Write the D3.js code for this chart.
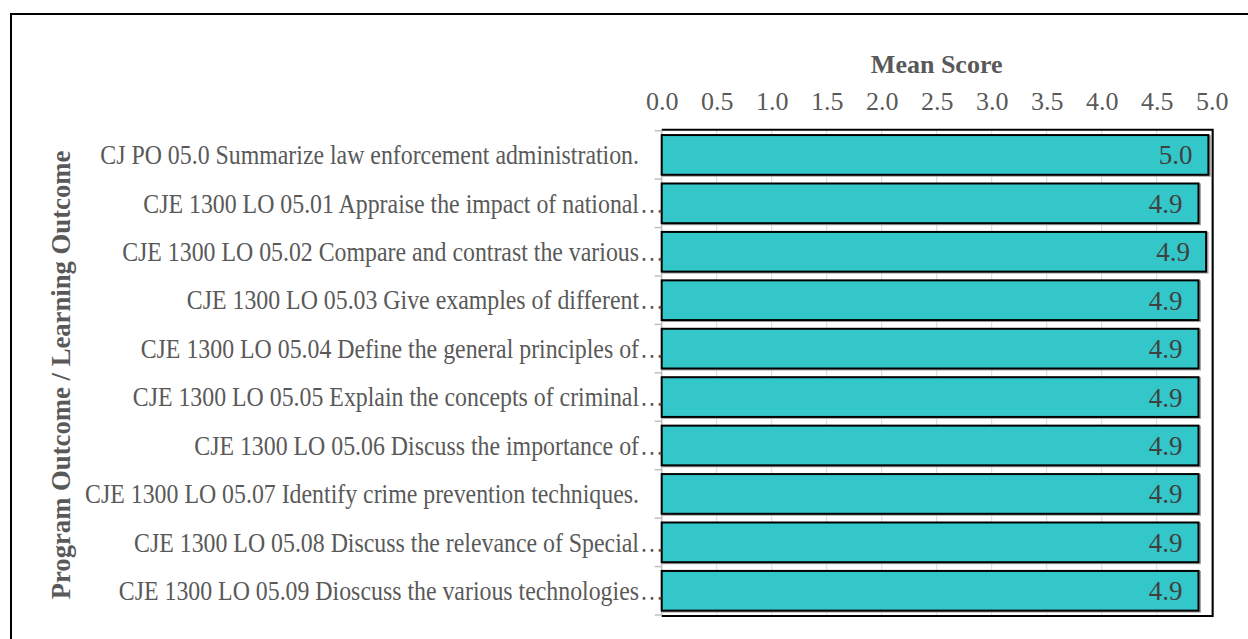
<!DOCTYPE html>
<html>
<head>
<meta charset="utf-8">
<script src="https://cdn.jsdelivr.net/npm/d3@7/dist/d3.min.js"></script>
<style>
  body { margin: 0; background: #fff; }
  svg text { font-family: "Liberation Serif", "Times New Roman", serif; }
</style>
</head>
<body>
<div id="chart"></div>
<script>
// chart data
var outcomes = [
  "CJ PO 05.0 Summarize law enforcement administration.",
  "CJE 1300 LO 05.01 Appraise the impact of national",
  "CJE 1300 LO 05.02 Compare and contrast the various",
  "CJE 1300 LO 05.03 Give examples of different",
  "CJE 1300 LO 05.04 Define the general principles of",
  "CJE 1300 LO 05.05 Explain the concepts of criminal",
  "CJE 1300 LO 05.06 Discuss the importance of",
  "CJE 1300 LO 05.07 Identify crime prevention techniques.",
  "CJE 1300 LO 05.08 Discuss the relevance of Special",
  "CJE 1300 LO 05.09 Dioscuss the various technologies"
];
var truncated = [false, true, true, true, true, true, true, false, true, true];
var meanScores = [4.97, 4.88, 4.949, 4.88, 4.88, 4.88, 4.88, 4.88, 4.88, 4.88];
var xTicks = [0, 0.5, 1, 1.5, 2, 2.5, 3, 3.5, 4, 4.5, 5];

var width = 1248, height = 639;
var plotLeft = 661.7, plotRight = 1211.7, plotTop = 130.7, plotBottom = 615;

var svg = d3.select("#chart").append("svg")
    .attr("width", width)
    .attr("height", height);

// outer border
svg.append("path")
    .attr("d", "M11,640 L11,14 L1250,14")
    .attr("fill", "none")
    .attr("stroke", "#000")
    .attr("stroke-width", 2);

var x = d3.scaleLinear().domain([0, 5]).range([plotLeft, plotRight]);
var y = d3.scaleBand().domain(d3.range(outcomes.length)).range([plotTop, plotBottom]).paddingInner(0.18).paddingOuter(0.09);

var textCol = "#595959";

// gridlines
svg.append("g").selectAll("line")
    .data(xTicks.slice(1))
    .enter().append("line")
    .attr("x1", function(d){ return x(d); })
    .attr("x2", function(d){ return x(d); })
    .attr("y1", plotTop)
    .attr("y2", plotBottom)
    .attr("stroke", "#d9d9d9")
    .attr("stroke-width", 1);

// top axis labels
var xAxis = d3.axisTop(x).tickValues(xTicks).tickFormat(d3.format(".1f")).tickSize(0).tickPadding(21);
var gx = svg.append("g").attr("transform", "translate(0," + plotTop + ")").call(xAxis);
gx.select(".domain").remove();
gx.selectAll("text")
    .attr("fill", textCol)
    .style("font-size", "26px")
    .style("font-family", "'Liberation Serif', serif");

svg.append("text")
    .attr("x", (plotLeft + plotRight) / 2)
    .attr("y", 73)
    .attr("text-anchor", "middle")
    .attr("fill", textCol)
    .style("font-size", "26px")
    .style("font-weight", "bold")
    .text("Mean Score");

// y axis title
svg.append("text")
    .attr("transform", "translate(70,375) rotate(-90)")
    .attr("text-anchor", "middle")
    .attr("fill", textCol)
    .style("font-size", "26.7px")
    .style("font-weight", "bold")
    .text("Program Outcome / Learning Outcome");

// plot frame
svg.append("path")
    .attr("d", "M" + plotLeft + "," + (plotTop - 1) + " L" + (plotRight + 1) + "," + (plotTop - 1) + " L" + (plotRight + 1) + "," + (plotBottom + 1) + " L" + plotLeft + "," + (plotBottom + 1))
    .attr("fill", "none")
    .attr("stroke", "#000")
    .attr("stroke-width", 2);

// left axis line + boundary ticks
var n = outcomes.length;
svg.append("line")
    .attr("x1", plotLeft).attr("x2", plotLeft)
    .attr("y1", plotTop).attr("y2", plotBottom)
    .attr("stroke", "#bfbfbf").attr("stroke-width", 1.5);
svg.append("g").selectAll("line")
    .data(d3.range(n + 1))
    .enter().append("line")
    .attr("x1", plotLeft - 7).attr("x2", plotLeft)
    .attr("y1", function(i){ return plotTop + i * (plotBottom - plotTop) / n; })
    .attr("y2", function(i){ return plotTop + i * (plotBottom - plotTop) / n; })
    .attr("stroke", "#bfbfbf").attr("stroke-width", 1.5);

// bars
var bars = svg.append("g").selectAll("g")
    .data(meanScores)
    .enter().append("g");

bars.append("rect")
    .attr("x", plotLeft + 1.5)
    .attr("y", function(d, i){ return y(i) + 1; })
    .attr("width", function(d){ return x(d) - plotLeft; })
    .attr("height", y.bandwidth())
    .attr("fill", "none")
    .attr("stroke", "#a6a6a6")
    .attr("stroke-width", 2);

bars.append("rect")
    .attr("x", plotLeft)
    .attr("y", function(d, i){ return y(i); })
    .attr("width", function(d){ return x(d) - plotLeft; })
    .attr("height", y.bandwidth())
    .attr("fill", "#34c7ca")
    .attr("stroke", "#000")
    .attr("stroke-width", 2);

bars.append("text")
    .attr("x", function(d){ return x(d) - 16; })
    .attr("y", function(d, i){ return y(i) + y.bandwidth() / 2; })
    .attr("dy", "0.35em")
    .attr("text-anchor", "end")
    .attr("fill", "#404040")
    .style("font-size", "27px")
    .text(function(d){ return d3.format(".1f")(d); });

// category labels (slightly condensed, like the original)
var squeeze = 0.9;
var catG = svg.append("g").attr("transform", "translate(639,0) scale(" + squeeze + ",1)");
catG.selectAll("text.cat")
    .data(outcomes)
    .enter().append("text")
    .attr("class", "cat")
    .attr("x", 0)
    .attr("y", function(d, i){ return y(i) + y.bandwidth() / 2; })
    .attr("dy", "0.35em")
    .attr("text-anchor", "end")
    .attr("fill", textCol)
    .style("font-size", "26.5px")
    .text(function(d){ return d; });

catG.selectAll("text.dots")
    .data(outcomes.filter(function(d, i){ return truncated[i]; }))
    .enter().append("text")
    .attr("class", "dots")
    .attr("x", 1)
    .attr("y", function(d){ var i = outcomes.indexOf(d); return y(i) + y.bandwidth() / 2; })
    .attr("dy", "0.35em")
    .attr("fill", textCol)
    .style("font-size", "26.5px")
    .text("…");
</script>
</body>
</html>
